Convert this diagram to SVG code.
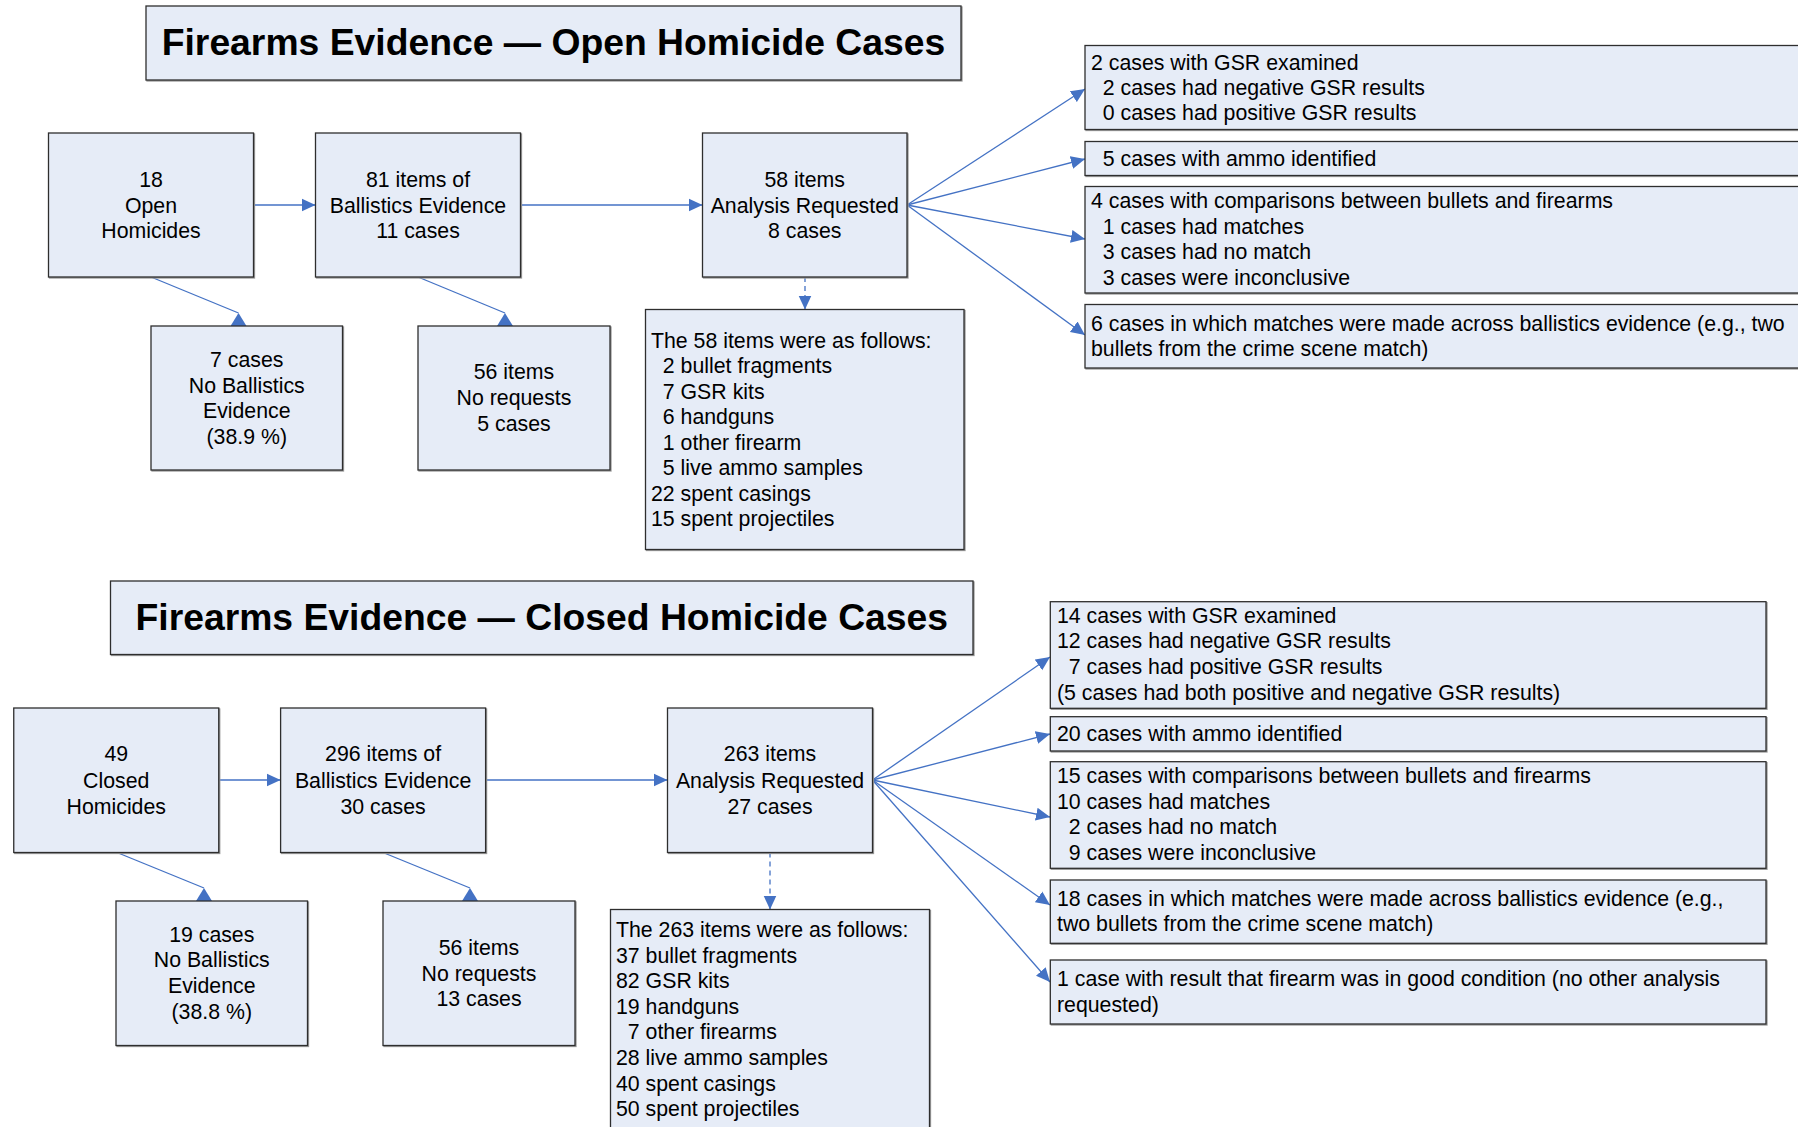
<svg xmlns="http://www.w3.org/2000/svg" width="1798" height="1127" viewBox="0 0 1798 1127">
<style>
.box{fill:#E6ECF7;stroke:#2E2E2E;stroke-width:1.3;filter:drop-shadow(1.5px 1.5px 0 #9A9A9A)}
.t{font-family:"Liberation Sans",Arial,sans-serif;font-size:21.3px;fill:#000}
.c{text-anchor:middle}
.title{font-family:"Liberation Sans",Arial,sans-serif;font-size:37.3px;font-weight:bold;text-anchor:middle;fill:#000}
.ln{fill:none;stroke:#4472C4;stroke-width:1.3}
.ds{stroke-dasharray:5,4}
</style>
<defs>
<marker id="ah" markerUnits="userSpaceOnUse" markerWidth="14" markerHeight="14" viewBox="0 0 14 14" refX="14" refY="7" orient="auto">
<path d="M0,0.5 L14,7 L0,13.5 Z" fill="#4472C4"/>
</marker>
<marker id="up" markerUnits="userSpaceOnUse" markerWidth="14" markerHeight="16" viewBox="0 0 13 16" refX="0" refY="8" orient="90">
<path d="M0,8 L13,0 L13,16 Z" fill="#4472C4"/>
</marker>
</defs>
<rect width="1798" height="1127" fill="#fff"/>

<g id="title-open"><rect class="box" x="146" y="6" width="815" height="74"/><text class="title" x="553.5" y="55">Firearms Evidence — Open Homicide Cases</text></g>
<g id="title-closed"><rect class="box" x="110.5" y="581" width="862.5" height="73.5"/><text class="title" x="541.8" y="630">Firearms Evidence — Closed Homicide Cases</text></g>

<g id="connectors">
<line class="ln" x1="253.75" y1="205" x2="315.5" y2="205" marker-end="url(#ah)"/>
<line class="ln" x1="520.5" y1="205" x2="702.5" y2="205" marker-end="url(#ah)"/>
<line class="ln" x1="151" y1="277" x2="238.5" y2="313" marker-end="url(#up)"/>
<line class="ln" x1="418" y1="277" x2="505" y2="313" marker-end="url(#up)"/>
<line class="ln ds" x1="805" y1="277" x2="805" y2="309.5" marker-end="url(#ah)"/>
<line class="ln" x1="907" y1="205" x2="1085" y2="89" marker-end="url(#ah)"/>
<line class="ln" x1="907" y1="205" x2="1085" y2="159" marker-end="url(#ah)"/>
<line class="ln" x1="907" y1="205" x2="1085" y2="239" marker-end="url(#ah)"/>
<line class="ln" x1="907" y1="205" x2="1085" y2="335" marker-end="url(#ah)"/>

<line class="ln" x1="218.75" y1="780" x2="280.6" y2="780" marker-end="url(#ah)"/>
<line class="ln" x1="485.6" y1="780" x2="667.5" y2="780" marker-end="url(#ah)"/>
<line class="ln" x1="117" y1="852.5" x2="204" y2="888" marker-end="url(#up)"/>
<line class="ln" x1="383" y1="852.5" x2="470" y2="888" marker-end="url(#up)"/>
<line class="ln ds" x1="770" y1="852.5" x2="770" y2="909.5" marker-end="url(#ah)"/>
<line class="ln" x1="872.5" y1="780" x2="1050" y2="657" marker-end="url(#ah)"/>
<line class="ln" x1="872.5" y1="780" x2="1050" y2="734" marker-end="url(#ah)"/>
<line class="ln" x1="872.5" y1="780" x2="1050" y2="817" marker-end="url(#ah)"/>
<line class="ln" x1="872.5" y1="780" x2="1050" y2="905" marker-end="url(#ah)"/>
<line class="ln" x1="872.5" y1="780" x2="1050" y2="982" marker-end="url(#ah)"/>
</g>

<g id="open-homicides"><rect class="box" x="48.5" y="133" width="205" height="144"/>
<text class="t c" x="151" y="187">18</text><text class="t c" x="151" y="212.5">Open</text><text class="t c" x="151" y="238">Homicides</text></g>
<g id="open-ballistics"><rect class="box" x="315.5" y="133" width="205" height="144"/>
<text class="t c" x="418" y="187">81 items of</text><text class="t c" x="418" y="212.5">Ballistics Evidence</text><text class="t c" x="418" y="238">11 cases</text></g>
<g id="open-analysis"><rect class="box" x="702.5" y="133" width="204.5" height="144"/>
<text class="t c" x="804.75" y="187">58 items</text><text class="t c" x="804.75" y="212.5">Analysis Requested</text><text class="t c" x="804.75" y="238">8 cases</text></g>
<g id="open-no-ballistics"><rect class="box" x="151" y="326" width="191.5" height="144"/>
<text class="t c" x="246.75" y="366.5">7 cases</text><text class="t c" x="246.75" y="392.5">No Ballistics</text><text class="t c" x="246.75" y="417.5">Evidence</text><text class="t c" x="246.75" y="443.5">(38.9 %)</text></g>
<g id="open-no-requests"><rect class="box" x="418" y="326" width="192" height="144"/>
<text class="t c" x="514" y="379">56 items</text><text class="t c" x="514" y="404.5">No requests</text><text class="t c" x="514" y="430.5">5 cases</text></g>
<g id="open-items"><rect class="box" x="645.5" y="309.5" width="318.5" height="240"/>
<text class="t" x="651" y="347.5">The 58 items were as follows:</text>
<text class="t" x="662.8" y="373">2 bullet fragments</text>
<text class="t" x="662.8" y="398.5">7 GSR kits</text>
<text class="t" x="662.8" y="424">6 handguns</text>
<text class="t" x="662.8" y="449.5">1 other firearm</text>
<text class="t" x="662.8" y="475">5 live ammo samples</text>
<text class="t" x="651" y="500.5">22 spent casings</text>
<text class="t" x="651" y="526">15 spent projectiles</text></g>
<g id="open-gsr"><rect class="box" x="1085" y="45.5" width="730" height="84"/>
<text class="t" x="1091" y="69.5">2 cases with GSR examined</text>
<text class="t" x="1102.8" y="94.5">2 cases had negative GSR results</text>
<text class="t" x="1102.8" y="119.5">0 cases had positive GSR results</text></g>
<g id="open-ammo"><rect class="box" x="1085" y="141.5" width="730" height="34"/>
<text class="t" x="1102.8" y="165.5">5 cases with ammo identified</text></g>
<g id="open-comparisons"><rect class="box" x="1085" y="186.5" width="730" height="106.5"/>
<text class="t" x="1091" y="208">4 cases with comparisons between bullets and firearms</text>
<text class="t" x="1102.8" y="233.5">1 cases had matches</text>
<text class="t" x="1102.8" y="259">3 cases had no match</text>
<text class="t" x="1102.8" y="285">3 cases were inconclusive</text></g>
<g id="open-matches"><rect class="box" x="1085" y="304.5" width="730" height="63.5"/>
<text class="t" x="1091" y="330.5">6 cases in which matches were made across ballistics evidence (e.g., two</text>
<text class="t" x="1091" y="355.5">bullets from the crime scene match)</text></g>

<g id="closed-homicides"><rect class="box" x="13.75" y="708" width="205" height="144.5"/>
<text class="t c" x="116.25" y="761">49</text><text class="t c" x="116.25" y="787.5">Closed</text><text class="t c" x="116.25" y="813.5">Homicides</text></g>
<g id="closed-ballistics"><rect class="box" x="280.6" y="708" width="205" height="144.5"/>
<text class="t c" x="383.1" y="761">296 items of</text><text class="t c" x="383.1" y="787.5">Ballistics Evidence</text><text class="t c" x="383.1" y="813.5">30 cases</text></g>
<g id="closed-analysis"><rect class="box" x="667.5" y="708" width="205" height="144.5"/>
<text class="t c" x="770" y="761">263 items</text><text class="t c" x="770" y="787.5">Analysis Requested</text><text class="t c" x="770" y="813.5">27 cases</text></g>
<g id="closed-no-ballistics"><rect class="box" x="116" y="901" width="191.5" height="144.5"/>
<text class="t c" x="211.75" y="942">19 cases</text><text class="t c" x="211.75" y="967">No Ballistics</text><text class="t c" x="211.75" y="993">Evidence</text><text class="t c" x="211.75" y="1019">(38.8 %)</text></g>
<g id="closed-no-requests"><rect class="box" x="383" y="901" width="192" height="144.5"/>
<text class="t c" x="479" y="955">56 items</text><text class="t c" x="479" y="980.5">No requests</text><text class="t c" x="479" y="1006">13 cases</text></g>
<g id="closed-items"><rect class="box" x="610.5" y="909.5" width="319" height="230"/>
<text class="t" x="616" y="937">The 263 items were as follows:</text>
<text class="t" x="616" y="962.5">37 bullet fragments</text>
<text class="t" x="616" y="988">82 GSR kits</text>
<text class="t" x="616" y="1013.5">19 handguns</text>
<text class="t" x="627.8" y="1039">7 other firearms</text>
<text class="t" x="616" y="1065">28 live ammo samples</text>
<text class="t" x="616" y="1090.5">40 spent casings</text>
<text class="t" x="616" y="1116">50 spent projectiles</text></g>
<g id="closed-gsr"><rect class="box" x="1050.3" y="601.7" width="715.7" height="106.6"/>
<text class="t" x="1057" y="623">14 cases with GSR examined</text>
<text class="t" x="1057" y="648">12 cases had negative GSR results</text>
<text class="t" x="1068.8" y="674">7 cases had positive GSR results</text>
<text class="t" x="1057" y="699.5">(5 cases had both positive and negative GSR results)</text></g>
<g id="closed-ammo"><rect class="box" x="1050.3" y="716.7" width="715.7" height="34.3"/>
<text class="t" x="1057" y="740.5">20 cases with ammo identified</text></g>
<g id="closed-comparisons"><rect class="box" x="1050.3" y="761.7" width="715.7" height="106.6"/>
<text class="t" x="1057" y="782.5">15 cases with comparisons between bullets and firearms</text>
<text class="t" x="1057" y="808.5">10 cases had matches</text>
<text class="t" x="1068.8" y="834">2 cases had no match</text>
<text class="t" x="1068.8" y="860">9 cases were inconclusive</text></g>
<g id="closed-matches"><rect class="box" x="1050.3" y="880" width="715.7" height="63.3"/>
<text class="t" x="1057" y="905.5">18 cases in which matches were made across ballistics evidence (e.g.,</text>
<text class="t" x="1057" y="930.5">two bullets from the crime scene match)</text></g>
<g id="closed-firearm"><rect class="box" x="1050.3" y="960" width="715.7" height="64"/>
<text class="t" x="1057" y="985.5">1 case with result that firearm was in good condition (no other analysis</text>
<text class="t" x="1057" y="1011.5">requested)</text></g>
</svg>
